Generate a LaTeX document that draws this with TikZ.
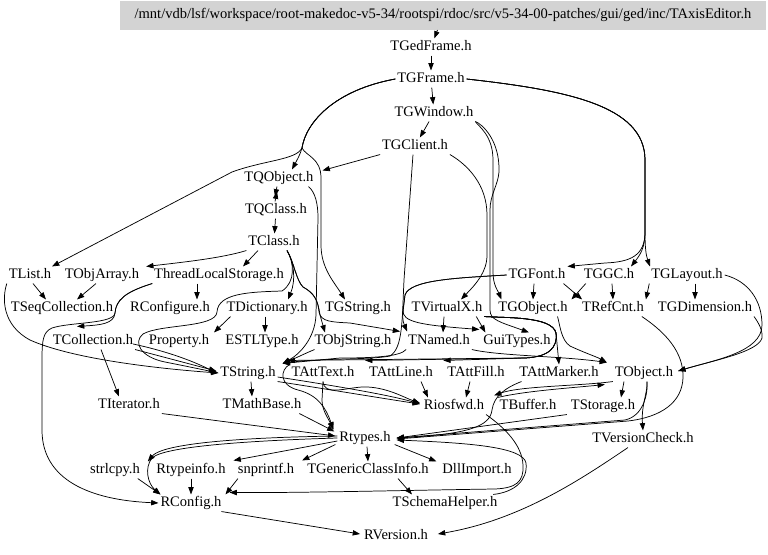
\documentclass[tikz,border=0pt]{standalone}
\usepackage{fontspec}
\setmainfont{Liberation Serif}
\usetikzlibrary{arrows.meta,calc}
\definecolor{titlegray}{RGB}{211,211,211}
\begin{document}
\begin{tikzpicture}[x=0.75pt,y=-0.75pt,
  n/.style={inner sep=1.5pt, outer sep=0pt, text height=7.5pt, text depth=2.3pt, font=\fontsize{10.9}{12}\selectfont},
  e/.style={line width=0.55pt, -{Triangle[length=5.5pt,width=4pt]}}]
\useasboundingbox (0,0) rectangle (768,554);
% nodes
\node[n, fill=titlegray, minimum width=484.5pt, minimum height=21.75pt] (title) at (443,15.5) {/mnt/vdb/lsf/workspace/root-makedoc-v5-34/rootspi/rdoc/src/v5-34-00-patches/gui/ged/inc/TAxisEditor.h};
\node[n] (TGedFrame) at (431,47) {TGedFrame.h};
\node[n] (TGFrame) at (431,79) {TGFrame.h};
\node[n] (TGWindow) at (434,113) {TGWindow.h};
\node[n] (TGClient) at (415,146) {TGClient.h};
\node[n] (TQObject) at (279,178) {TQObject.h};
\node[n] (TQClass) at (276,210) {TQClass.h};
\node[n] (TClass) at (274,242) {TClass.h};
\node[n] (TList) at (30,275) {TList.h};
\node[n] (TObjArray) at (102,275) {TObjArray.h};
\node[n] (ThreadLS) at (219,275) {ThreadLocalStorage.h};
\node[n] (TGFont) at (537,275) {TGFont.h};
\node[n] (TGGC) at (609,275) {TGGC.h};
\node[n] (TGLayout) at (687,275) {TGLayout.h};
\node[n] (TSeqCollection) at (62,308) {TSeqCollection.h};
\node[n] (RConfigure) at (170,308) {RConfigure.h};
\node[n] (TDictionary) at (267,308) {TDictionary.h};
\node[n] (TGString) at (358,308) {TGString.h};
\node[n] (TVirtualX) at (447,308) {TVirtualX.h};
\node[n] (TGObject) at (533,308) {TGObject.h};
\node[n] (TRefCnt) at (613,308) {TRefCnt.h};
\node[n] (TGDimension) at (705,308) {TGDimension.h};
\node[n] (TCollection) at (93,341) {TCollection.h};
\node[n] (Property) at (179,341) {Property.h};
\node[n] (ESTLType) at (262,341) {ESTLType.h};
\node[n] (TObjString) at (353,341) {TObjString.h};
\node[n] (TNamed) at (439,341) {TNamed.h};
\node[n] (GuiTypes) at (517,341) {GuiTypes.h};
\node[n] (TString) at (248,373) {TString.h};
\node[n] (TAttText) at (323,373) {TAttText.h};
\node[n] (TAttLine) at (401,373) {TAttLine.h};
\node[n] (TAttFill) at (476,373) {TAttFill.h};
\node[n] (TAttMarker) at (559,373) {TAttMarker.h};
\node[n] (TObject) at (644,373) {TObject.h};
\node[n] (TIterator) at (129,405) {TIterator.h};
\node[n] (TMathBase) at (262,405) {TMathBase.h};
\node[n] (Riosfwd) at (454,406) {Riosfwd.h};
\node[n] (TBuffer) at (528,406) {TBuffer.h};
\node[n] (TStorage) at (603,406) {TStorage.h};
\node[n] (Rtypes) at (365,438) {Rtypes.h};
\node[n] (TVersionCheck) at (643,439) {TVersionCheck.h};
\node[n] (strlcpy) at (115,470) {strlcpy.h};
\node[n] (Rtypeinfo) at (191,470) {Rtypeinfo.h};
\node[n] (snprintf) at (266,470) {snprintf.h};
\node[n] (TGenericClassInfo) at (368,470) {TGenericClassInfo.h};
\node[n] (DllImport) at (477,470) {DllImport.h};
\node[n] (TSchemaHelper) at (445,503) {TSchemaHelper.h};
\node[n] (RConfig) at (191,503) {RConfig.h};
\node[n] (RVersion) at (396,536) {RVersion.h};
% top chain
\draw[e] (title) -- (TGedFrame);
\draw[e] (TGedFrame) -- (TGFrame);
\draw[e] (TGFrame) -- (TGWindow);
\draw[e] (TGWindow) -- (TGClient);
% TGFrame left fan
\draw[e] (TGFrame.west) .. controls (335,90) and (306,122) .. (302,148) .. controls (300,155) and (297,160) .. ($(TQObject.north)+(13,0)$);
\draw[e] (TGFrame.west) .. controls (335,90) and (306,122) .. (302,148) .. controls (296,160) and (265,160) .. (232,172) -- ($(TList.north)+(22,0)$);
\draw[e] (TGFrame.west) .. controls (335,90) and (306,122) .. (302,148) .. controls (306,156) and (321,158) .. (321,178) -- (321,245) .. controls (321,268) and (334,282) .. ($(TGString.north)+(-13,0)$);
% TGFrame right trunk
\draw[e] (TGFrame.east) .. controls (565,90) and (645,105) .. (645,160) -- (645,232) .. controls (645,256) and (630,262) .. (605,263) -- (TGFont.north east);
\draw[e] (TGFrame.east) .. controls (565,90) and (645,105) .. (645,160) -- (645,232) .. controls (645,248) and (640,255) .. ($(TGGC.north)+(22,0)$);
\draw[e] (TGFrame.east) .. controls (565,90) and (645,105) .. (645,160) -- (645,232) .. controls (645,248) and (646,255) .. ($(TGLayout.north)+(-37,0)$);
% TGWindow, TGClient
\draw[e] (TGWindow.south east) .. controls (478,126) and (493,135) .. (493,160) -- (493,272) .. controls (493,285) and (498,291) .. ($(TGObject.north west)+(5,0)$);
\draw[e] (TGWindow.south east) .. controls (482,124) and (500,140) .. (499,172) .. controls (498,185) and (490,195) .. (490,210) -- (490,310) .. controls (490,320) and (500,322) .. ($(GuiTypes.north)+(12,0)$);
\draw[e] (TGClient.south east) .. controls (468,165) and (487,185) .. (487,215) -- (487,255) .. controls (487,272) and (476,284) .. ($(TVirtualX.north)+(14,0)$);
\draw[e] (TGClient.south west) -- ($(TQObject.north east)+(7,1)$);
\draw[e] ($(TGClient.south)+(-2,0)$) -- (404,280) .. controls (402,320) and (403,348) .. (390,356) .. controls (370,360) and (320,358) .. ($(TString.north east)+(5,-1)$);
% TQObject cluster
\draw[e] ($(TQObject.south)+(-2,0)$) -- ($(TQClass.north)+(-1,-5)$);
\draw[e] ($(TQClass.north)+(-1,0)$) -- ($(TQObject.south)+(-2,5)$);
\draw[e] (TQClass) -- (TClass);
\draw[e] ($(TQObject.south east)+(-7,0)$) .. controls (315,192) and (318,203) .. (318,218) -- (316,315) .. controls (315,338) and (300,354) .. ($(TString.north east)+(5,-1)$);
% TClass out
\draw[e] (TClass.south west) .. controls (222,258) and (185,262) .. ($(TObjArray.north east)+(5,0)$);
\draw[e] ($(TClass.south)+(-16,0)$) -- ($(ThreadLS.north)+(24,0)$);
\draw[e] ($(TClass.south)+(13,0)$) .. controls (294,262) and (296,280) .. ($(TDictionary.north)+(21,0)$);
\draw[e] ($(TClass.south)+(13,0)$) .. controls (294,262) and (296,280) .. (303,287) .. controls (314,293) and (318,300) .. (320,315) -- ($(TObjString.north)+(-28,0)$);
\draw[e] ($(TClass.south)+(13,0)$) .. controls (294,262) and (296,280) .. (303,287) .. controls (314,293) and (318,300) .. (319,312) .. controls (321,322) and (332,322) .. (350,323) -- ($(TNamed.north west)+(-6,-1)$);
\draw[e] ($(TClass.south)+(13,0)$) .. controls (294,262) and (296,282) .. (282,291) .. controls (250,292) and (218,293) .. (217,312) .. controls (216,328) and (160,324) .. (143,334) .. controls (133,342) and (140,357) .. (165,362) .. controls (185,366) and (200,369) .. (TString.west);
% TList, TObjArray, ThreadLocalStorage
\draw[e] ($(TList.south)+(3,0)$) -- ($(TSeqCollection.north)+(-16,0)$);
\draw[e] ($(TObjArray.south)+(-6,0)$) -- ($(TSeqCollection.north)+(15,0)$);
\draw[e] (TList.south west) .. controls (2,298) and (2,325) .. (30,340) .. controls (70,358) and (150,368) .. (TString.west);
\draw[e] ($(ThreadLS.south)+(-22,0)$) -- ($(RConfigure.north)+(27,0)$);
\draw[e] (ThreadLS.south west) .. controls (125,292) and (116,300) .. (115,313) .. controls (114,324) and (100,325) .. ($(TCollection.north)+(-16,-6)$);
\draw[e] (ThreadLS.south west) .. controls (125,292) and (116,300) .. (115,313) .. controls (114,324) and (70,322) .. (52,328) .. controls (43,332) and (42,340) .. (42,360) -- (42,430) .. controls (42,480) and (90,500) .. (RConfig.west);
% TCollection, TDictionary
\draw[e] ($(TCollection.south)+(8,0)$) -- ($(TIterator.north)+(-10,0)$);
\draw[e] (TCollection.south east) -- ($(TString.west)+(-2,-2)$);
\draw[e] ($(TCollection.east)+(-2,3)$) .. controls (170,352) and (195,362) .. ($(TString.west)+(-2,0)$);
\draw[e] ($(TDictionary.south west)+(6,0)$) -- ($(Property.north east)+(3,0)$);
\draw[e] ($(TDictionary.south)+(-2,0)$) -- ($(ESTLType.north)+(3,0)$);
% TObjString, TNamed, TGObject
\draw[e] ($(TObjString.south west)+(2,0)$) .. controls (306,353) and (296,358) .. ($(TString.north east)+(5,-1)$);
\draw[e] (TNamed.south west) .. controls (400,357) and (370,358) .. (340,358) -- ($(TString.north east)+(5,-1)$);
\draw[e] (TNamed.south east) .. controls (500,356) and (560,356) .. ($(TObject.north west)+(-6,-2)$);
\draw[e] ($(TGObject.south east)+(-12,0)$) .. controls (560,325) and (561,340) .. (570,346) .. controls (585,353) and (597,357) .. ($(TObject.north west)+(-6,-2)$);
% TVirtualX
\draw[e] (TVirtualX.south east) .. controls (505,318) and (552,316) .. (556,333) -- (TAttMarker.north);
\draw[e] (TVirtualX.south east) .. controls (505,318) and (552,316) .. (556,333) .. controls (558,348) and (548,357) .. (525,358) -- ($(TAttFill.north west)+(-2,-4)$);
\draw[e] (TVirtualX.south east) .. controls (505,318) and (552,316) .. (556,333) .. controls (558,348) and (548,357) .. (525,358) -- ($(TAttLine.north west)+(-2,-4)$);
\draw[e] (TVirtualX.south east) .. controls (505,318) and (552,316) .. (556,333) .. controls (558,348) and (548,357) .. (525,358) -- ($(TAttText.north west)+(-2,-4)$);
\draw[e] ($(TVirtualX.south)+(-3,0)$) -- ($(TNamed.north)+(4,0)$);
\draw[e] ($(TVirtualX.south east)+(-8,0)$) -- ($(GuiTypes.north west)+(4,0)$);
% TGFont, TGGC, TGLayout
\draw[e] (TGFont.west) .. controls (455,278) and (410,280) .. (405,295) -- (403,312) .. controls (402,320) and (404,324) .. ($(TNamed.north west)+(1,-1)$);
\draw[e] (TGFont.west) .. controls (455,278) and (410,280) .. (405,295) -- (403,310) .. controls (402,322) and (420,325) .. ($(GuiTypes.north west)+(-2,-3)$);
\draw[e] ($(TGFont.south)+(-3,0)$) -- (TGObject.north);
\draw[e] ($(TGFont.south east)+(-4,0)$) -- ($(TRefCnt.north west)+(2,0)$);
\draw[e] ($(TGGC.south west)+(4,0)$) -- ($(TGObject.north east)+(2,0)$);
\draw[e] ($(TGGC.south)+(3,0)$) -- (TRefCnt.north);
\draw[e] (TGLayout.south west) -- (TRefCnt.north east);
\draw[e] ($(TGLayout.south)+(8,0)$) -- ($(TGDimension.north)+(-10,0)$);
\draw[e] (TGLayout.east) .. controls (748,281) and (762,300) .. (762,325) .. controls (762,352) and (715,360) .. ($(TObject.east)+(3,-2)$);
\draw[e] (TGDimension.south east) .. controls (758,322) and (763,330) .. (762,338) .. controls (758,352) and (715,360) .. ($(TObject.east)+(3,-2)$);
% TRefCnt, TObject
\draw[e] ($(TRefCnt.south east)+(-4,0)$) .. controls (665,332) and (684,352) .. (683,378) .. controls (682,402) and (662,417) .. (628,421) -- ($(Rtypes.east)+(4,1)$);
\draw[e] ($(TObject.south)+(3,0)$) .. controls (648,392) and (641,405) .. (TVersionCheck.north);
\draw[e] ($(TObject.south)+(3,0)$) .. controls (648,395) and (643,416) .. (625,420) -- ($(Rtypes.east)+(4,0)$);
\draw[e] ($(TObject.south)+(-20,0)$) -- ($(TStorage.north)+(18,0)$);
\draw[e] (TObject.south west) .. controls (580,386) and (520,386) .. ($(Riosfwd.north east)+(8,-2)$);
\draw[e] (TBuffer.north west) .. controls (525,391) and (570,388) .. ($(TObject.south west)+(-8,3)$);
\draw[e] ($(TAttMarker.south west)+(4,0)$) .. controls (505,388) and (494,396) .. (492,410) .. controls (490,426) and (470,434) .. ($(Rtypes.east)+(4,0)$);
\draw[e] ($(TStorage.south west)+(-2,0)$) -- ($(Rtypes.east)+(4,0)$);
% Riosfwd, TSchemaHelper
\draw[e] (Riosfwd.south east) .. controls (505,428) and (522,445) .. (523,465) .. controls (524,482) and (516,488) .. (495,489) .. controls (420,490) and (300,493) .. ($(RConfig.north east)+(6,-2)$);
\draw[e] ($(TSchemaHelper.north east)+(-6,0)$) .. controls (515,492) and (528,480) .. (526,463) .. controls (523,447) and (470,443) .. ($(Rtypes.east)+(4,2)$);
\draw[e] ($(TGenericClassInfo.south)+(30,0)$) -- ($(TSchemaHelper.north)+(-33,0)$);
% TString, TAtt*
\draw[e] (TString.south east) .. controls (320,388) and (380,398) .. ($(Riosfwd.west)+(-2,-2)$);
\draw[e] ($(TString.east)+(0,4)$) .. controls (330,385) and (390,395) .. ($(Riosfwd.west)+(-2,-2)$);
\draw[e] (TAttText.south) .. controls (324,396) and (345,388) .. (362,387) .. controls (385,386) and (405,398) .. ($(Riosfwd.west)+(-2,-3)$);
\draw[e] (TAttText.north west) .. controls (280,370) and (279,385) .. (298,390) .. controls (318,395) and (326,408) .. ($(Rtypes.north west)+(-4,0)$);
\draw[e] (TAttText.south) -- (322,400) .. controls (322,410) and (328,418) .. ($(Rtypes.north west)+(-4,0)$);
\draw[e] ($(TAttLine.south)+(20,0)$) -- ($(Riosfwd.north west)+(6,0)$);
\draw[e] ($(TAttFill.south)+(-6,0)$) -- ($(Riosfwd.north)+(12,0)$);
\draw[e] ($(TString.south)+(3,0)$) -- ($(TMathBase.north)+(-10,0)$);
% lower
\draw[e] (TIterator.south east) -- ($(Rtypes.west)+(-2,-2)$);
\draw[e] ($(TMathBase.south east)+(-4,0)$) -- ($(Rtypes.north west)+(-3,2)$);
\draw[e] (Rtypes.west) .. controls (270,440) and (165,445) .. (152,458) .. controls (144,468) and (148,484) .. ($(RConfig.north west)+(2,0)$);
\draw[e] ($(Rtypes.west)+(0,-2)$) .. controls (270,437) and (165,441) .. ($(strlcpy.north east)+(6,0)$);
\draw[e] ($(Rtypes.west)+(0,3)$) -- ($(Rtypeinfo.north east)+(6,-1)$);
\draw[e] ($(Rtypes.south west)+(-2,-2)$) -- ($(snprintf.north east)+(6,-1)$);
\draw[e] ($(Rtypes.south)+(2,0)$) -- (TGenericClassInfo.north);
\draw[e] ($(Rtypes.south east)+(2,-2)$) -- ($(DllImport.north west)+(-4,0)$);
\draw[e] ($(strlcpy.south east)+(-4,0)$) -- ($(RConfig.north west)+(2,0)$);
\draw[e] (Rtypeinfo) -- (RConfig);
\draw[e] ($(snprintf.south west)+(2,0)$) -- ($(RConfig.north east)+(2,0)$);
\draw[e] ($(RConfig.south east)+(-2,0)$) -- ($(RVersion.west)+(-2,-2)$);
\draw[e] ($(TVersionCheck.south)+(-15,0)$) .. controls (580,480) and (520,520) .. ($(RVersion.east)+(8,-2)$);
\end{tikzpicture}
\end{document}
